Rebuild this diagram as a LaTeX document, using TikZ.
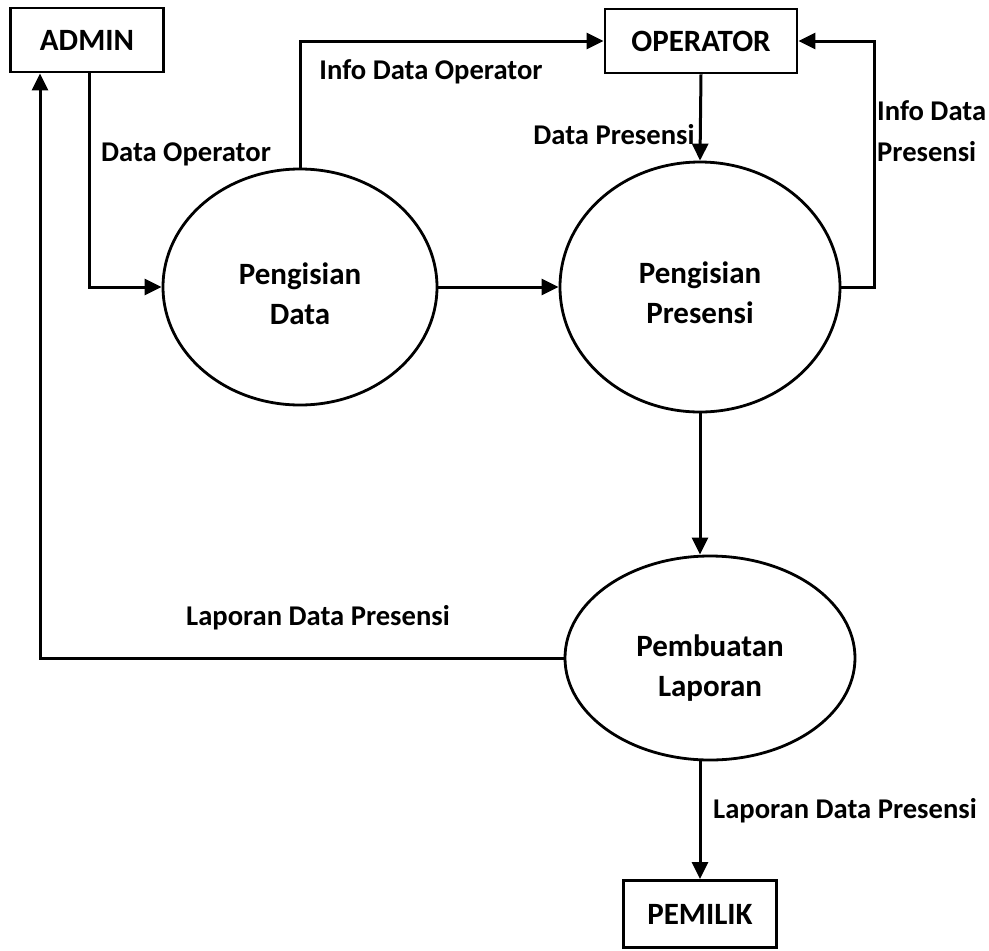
\documentclass[tikz,border=0pt]{standalone}
\usepackage{fontspec}
\setmainfont{Carlito}
\usetikzlibrary{arrows.meta,shapes.geometric}
\begin{document}
\begin{tikzpicture}[x=1pt,y=-1pt,
  every node/.style={font=\bfseries\fontsize{28.6}{35}\selectfont},
  ent/.style={draw,line width=2.8pt,rectangle,inner sep=0pt,font=\bfseries\fontsize{31}{38}\selectfont},
  proc/.style={draw,line width=2.8pt,ellipse,inner sep=0pt},
  ptext/.style={align=center,inner sep=0pt,font=\bfseries\fontsize{31}{40}\selectfont},
  flow/.style={line width=3pt,-{Triangle[length=17pt,width=16pt]}},
  lbl/.style={inner sep=0pt,anchor=center}]
\useasboundingbox (0,0) rectangle (989,951);
\node[ent,minimum width=153pt,minimum height=64pt] (admin) at (87,40) {ADMIN};
\node[ent,minimum width=192pt,minimum height=64pt] (op) at (701,41) {OPERATOR};
\node[ent,minimum width=153pt,minimum height=67pt] (pem) at (700,914) {PEMILIK};
\node[proc,minimum width=274pt,minimum height=236pt,
  label={[ptext,yshift=-7pt]center:Pengisian\\Data}] (e1) at (300,287) {};
\node[proc,minimum width=280pt,minimum height=250pt,
  label={[ptext,yshift=-6pt]center:Pengisian\\Presensi}] (e2) at (700,287) {};
\node[proc,minimum width=290pt,minimum height=204pt,
  label={[ptext,yshift=-10pt]center:Pembuatan\\Laporan}] (e3) at (710,658) {};
\coordinate (xa) at (89,0);
\coordinate (xb) at (40,0);
\draw[flow] (admin.south -| xa) |- (e1.west);
\draw[flow] (e1.north) |- (op.west);
\draw[flow] (op.south) -- (e2.north);
\draw[flow] (e2.east) -- ++(33,0) |- (op.east);
\draw[flow] (e1.east) -- (e2.west);
\draw[flow] (e2.south) -- (e2.south |- e3.north);
\draw[flow] (e3.west) -| (admin.south -| xb);
\draw[flow] (pem.north |- e3.south) -- (pem.north);
\node[lbl] (l1) at (186,154) {Data Operator};
\node[lbl] (l2) at (431,72) {Info Data Operator};
\node[lbl] (l3) at (614,135) {Data Presensi};
\node[lbl,anchor=west,align=left,font=\bfseries\fontsize{28.6}{41}\selectfont] (l4) at (877,131) {Info Data\\Presensi};
\node[lbl] (l5) at (318,618) {Laporan Data Presensi};
\node[lbl] (l6) at (845,811) {Laporan Data Presensi};
\end{tikzpicture}
\end{document}
